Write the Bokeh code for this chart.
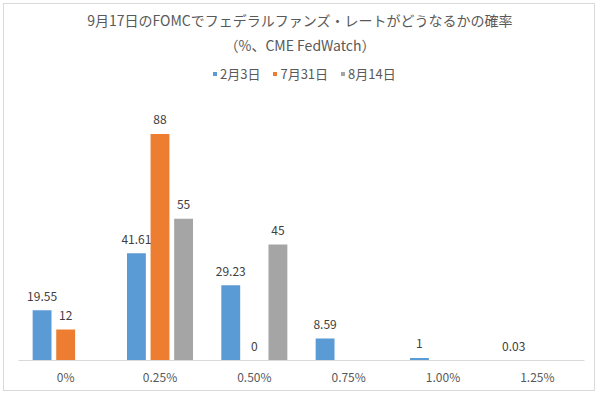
from bokeh.plotting import figure
from bokeh.models import ColumnDataSource, FactorRange, Range1d, LabelSet, Label, Legend, LegendItem
from bokeh.core.properties import value
from bokeh.transform import dodge
from bokeh.embed import file_html
from bokeh.resources import INLINE

categories = ["0%", "0.25%", "0.50%", "0.75%", "1.00%", "1.25%"]
series_names = ["2月3日", "7月31日", "8月14日"]
feb3 = [19.55, 41.61, 29.23, 8.59, 1, 0.03]
jul31 = [12, 88, 0, None, None, None]
aug14 = [None, 55, 45, None, None, None]
colors = ["#5B9BD5", "#ED7D31", "#A5A5A5"]
title_line1 = "9月17日のFOMCでフェデラルファンズ・レートがどうなるかの確率"
title_line2 = "（%、CME FedWatch）"

FONT = "Noto Sans CJK JP"

# frame spans the full height above the axis so the title and legend live inside it
p = figure(width=592, height=388, x_range=FactorRange(*categories, range_padding=0),
           y_range=Range1d(0, 138.25), output_backend="svg", toolbar_location=None,
           min_border_left=14, min_border_right=12, min_border_top=0, min_border_bottom=32)
p.styles = {"border": "1px solid #d9d9d9", "margin-left": "3px", "margin-top": "3px"}
p.outline_line_color = None
p.xgrid.grid_line_color = None
p.ygrid.grid_line_color = None
p.yaxis.visible = False
p.xaxis.axis_line_color = "#d9d9d9"
p.xaxis.major_tick_line_color = None
p.xaxis.minor_tick_line_color = None
p.xaxis.major_tick_out = 0
p.xaxis.major_tick_in = 0
p.xaxis.major_label_text_font = FONT
p.xaxis.major_label_text_font_size = "12px"
p.xaxis.major_label_text_color = "#595959"
p.xaxis.major_label_standoff = 7

offsets = [-0.25, 0.0, 0.25]
items = []
for name, vals, col, off in zip(series_names, [feb3, jul31, aug14], colors, offsets):
    xs = [c for c, v in zip(categories, vals) if v is not None]
    ys = [v for v in vals if v is not None]
    src = ColumnDataSource(dict(x=xs, y=ys, t=[("%g" % v) for v in ys]))
    r = p.vbar(x=dodge("x", off, range=p.x_range), top="y", width=0.2, source=src,
               fill_color=col, line_color=None)
    items.append(LegendItem(label=name, renderers=[r]))
    p.add_layout(LabelSet(x=dodge("x", off, range=p.x_range), y="y", text="t", source=src,
                          text_align="center", text_baseline="middle", y_offset=14,
                          text_font=value(FONT), text_font_size=value("12px"),
                          text_color="#404040"))

legend = Legend(items=items, orientation="horizontal", location=(194, 277),
                glyph_width=5, glyph_height=5, label_standoff=3, spacing=12,
                padding=0, margin=0, border_line_color=None, background_fill_alpha=0,
                label_text_font=FONT, label_text_font_size="13px", label_text_color="#595959")
p.add_layout(legend, "center")

for txt, yy in [(title_line1, 341), (title_line2, 316)]:
    p.add_layout(Label(x=281.5, y=yy, x_units="screen", y_units="screen", text=txt,
                       text_align="center", text_baseline="middle", text_font=FONT,
                       text_font_size="14px", text_color="#595959"))

open("out.html", "w").write(file_html(p, INLINE))
